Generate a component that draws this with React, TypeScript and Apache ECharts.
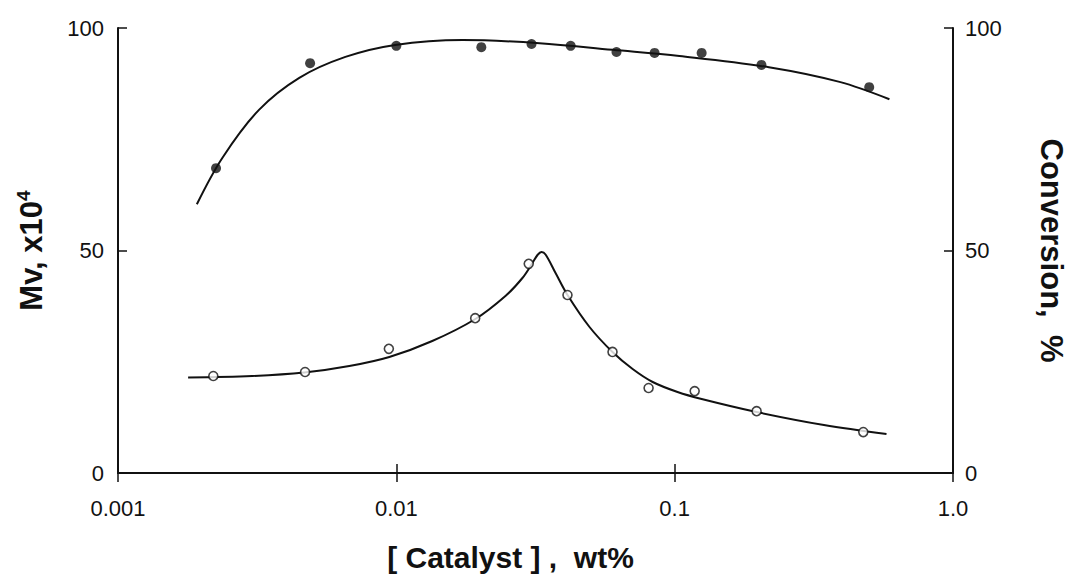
import React, { useEffect, useRef } from "react";
import * as echarts from "echarts";

// Catalyst concentration (wt%) and measured values
const mvX = [0.00225, 0.0049, 0.01, 0.0202, 0.0306, 0.0423, 0.0618, 0.0847, 0.125, 0.205, 0.5];
const mvY = [68.5, 92.1, 96.0, 95.7, 96.4, 96.0, 94.6, 94.4, 94.4, 91.7, 86.7];
const convX = [0.0022, 0.0047, 0.0094, 0.0192, 0.0299, 0.0412, 0.0598, 0.0806, 0.118, 0.197, 0.476];
const convY = [21.8, 22.7, 27.9, 34.8, 47.0, 40.0, 27.2, 19.1, 18.4, 13.9, 9.2];

// Hand-drawn fitted curves
const mvCurveX = [0.00192, 0.00237, 0.00321, 0.00448, 0.00656, 0.0099, 0.0173, 0.0327, 0.0598, 0.104, 0.218, 0.391, 0.591];
const mvCurveY = [60.4, 70.8, 81.6, 88.8, 93.5, 96.2, 97.3, 96.6, 95.1, 93.7, 91.2, 87.9, 84.0];
const convCurveX = [0.001786, 0.003034, 0.004668, 0.006777, 0.009437, 0.01346, 0.01923, 0.02466, 0.02838, 0.03084, 0.03215, 0.03324, 0.03436, 0.03733, 0.04121, 0.04944, 0.05979, 0.07063, 0.08337, 0.1024, 0.125, 0.1968, 0.3438, 0.5769];
const convCurveY = [21.46, 21.8, 22.58, 24.04, 26.07, 29.66, 34.61, 39.78, 43.82, 47.19, 48.99, 49.66, 49.1, 44.94, 40.0, 32.81, 27.19, 23.37, 20.45, 18.2, 16.63, 13.71, 10.79, 8.76];

const yTicks = [0, 50, 100];

const FONT = "'Liberation Sans', Arial, Helvetica, sans-serif";
const INK = "#111";

const zip = (xs: number[], ys: number[]) => xs.map((x, i) => [x, ys[i]]);

const fmtLog = (v: number) => {
  const e = Math.round(Math.log10(v));
  if (e >= 0) return "1.0";
  return Math.pow(10, e).toFixed(-e);
};

export default function App() {
  const ref = useRef<HTMLDivElement>(null);
  useEffect(() => {
    if (!ref.current) return;
    const chart = echarts.init(ref.current, null, { renderer: "svg" });
    const xCommon = {
      type: "log" as const,
      logBase: 10,
      min: 0.001,
      max: 1,
      splitLine: { show: false },
      axisLine: { show: true, lineStyle: { color: INK, width: 2 } },
      axisTick: { show: true, inside: true, length: 9, lineStyle: { color: INK, width: 1.5 } },
      minorTick: { show: false },
    };
    const yCommon = {
      type: "value" as const,
      min: yTicks[0],
      max: yTicks[yTicks.length - 1],
      interval: 50,
      splitLine: { show: false },
      axisLine: { show: true, lineStyle: { color: INK, width: 2 } },
      axisTick: { show: true, inside: true, length: 9, lineStyle: { color: INK, width: 1.5 } },
      axisLabel: { color: INK, fontSize: 22, fontFamily: FONT },
    };
    chart.setOption({
      animation: false,
      backgroundColor: "#fff",
      grid: { left: 118, right: 104, top: 28, bottom: 105 },
      xAxis: [
        {
          ...xCommon,
          position: "bottom",
          axisLabel: { color: INK, fontSize: 22, fontFamily: FONT, margin: 24, formatter: fmtLog },
          name: "[ Catalyst ] ,  wt%",
          nameLocation: "middle",
          nameGap: 69,
          nameTextStyle: {
            color: INK,
            fontSize: 30,
            fontWeight: "bold",
            fontFamily: FONT,
            padding: [0, 50, 0, 0],
          },
        },
        {
          ...xCommon,
          position: "top",
          axisLabel: { show: false },
        },
      ],
      yAxis: [
        {
          ...yCommon,
          position: "left",
          axisLabel: { ...yCommon.axisLabel, margin: 14 },
          name: "{a|Mv, x10}{s|4}",
          nameLocation: "middle",
          nameRotate: 90,
          nameGap: 70,
          nameTextStyle: {
            rich: {
              a: { fontSize: 31, fontWeight: "bold", fontFamily: FONT, color: INK, lineHeight: 34 },
              s: { fontSize: 19, fontWeight: "bold", fontFamily: FONT, color: INK, verticalAlign: "top", lineHeight: 22 },
            },
          },
        },
        {
          ...yCommon,
          position: "right",
          axisLabel: { ...yCommon.axisLabel, margin: 12 },
          name: "Conversion,  %",
          nameLocation: "middle",
          nameRotate: -90,
          nameGap: 83,
          nameTextStyle: { color: INK, fontSize: 31, fontWeight: "bold", fontFamily: FONT },
        },
      ],
      series: [
        {
          type: "line",
          xAxisIndex: 0,
          yAxisIndex: 0,
          data: zip(mvCurveX, mvCurveY),
          smooth: 0.35,
          showSymbol: false,
          lineStyle: { color: INK, width: 2 },
          z: 2,
        },
        {
          type: "line",
          xAxisIndex: 0,
          yAxisIndex: 1,
          data: zip(convCurveX, convCurveY),
          smooth: 0.35,
          showSymbol: false,
          lineStyle: { color: INK, width: 2 },
          z: 2,
        },
        {
          type: "scatter",
          xAxisIndex: 0,
          yAxisIndex: 0,
          data: zip(mvX, mvY),
          symbol: "circle",
          symbolSize: 10,
          itemStyle: { color: INK },
          z: 3,
        },
        {
          type: "scatter",
          xAxisIndex: 0,
          yAxisIndex: 1,
          data: zip(convX, convY),
          symbol: "circle",
          symbolSize: 9,
          itemStyle: { color: "#fff", borderColor: INK, borderWidth: 1.6 },
          z: 3,
        },
      ],
    });
    return () => chart.dispose();
  }, []);
  return (
    <div
      ref={ref}
      style={{ position: "fixed", left: 0, top: 0, width: 1075, height: 578, background: "#fff" }}
    />
  );
}
